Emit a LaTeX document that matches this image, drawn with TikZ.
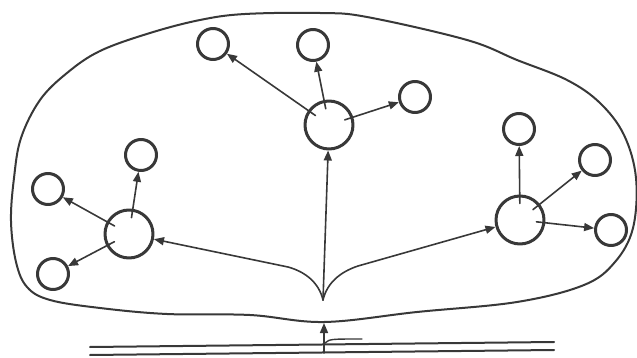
\documentclass[tikz,border=0pt]{standalone}
\usepackage{tikz}
\usetikzlibrary{arrows.meta}
\definecolor{ink}{HTML}{383838}

\begin{document}
\begin{tikzpicture}[x=1pt,y=-1pt,line cap=round,line join=round,
              hub/.style={circle,draw=ink,line width=3pt,minimum size=48pt,inner sep=0},
              leaf/.style={circle,draw=ink,line width=3pt,minimum size=31pt,inner sep=0},
              arr/.style={ink,line width=1.6pt,-{Triangle[length=10pt,width=8pt]}},
              spoke/.style={arr,shorten <=-9pt}]
              \useasboundingbox (0,0) rectangle (637,358);
              % outline of the whole
              \draw[ink,line width=2pt] plot[smooth cycle,tension=0.6] coordinates {
                (320,13) (367,17) (467,40) (517,60) (567,80) (600,103) (624,135)
                (636,178) (633,228) (615,262) (584,285) (517,302) (417,312) (324,322)
                (250,315) (167,314) (100,308) (50,300) (27,287) (16,262) (11,221)
                (14,178) (21,138) (40,100) (67,73) (100,51) (150,33) (200,20) (245,14)};
              % hubs
              \node[hub] (c) at (329,125) {};
              \node[hub] (l) at (129,234) {};
              \node[hub] (r) at (520,220) {};
              % leaves
              \node[leaf] (c1) at (213,44) {};
              \node[leaf] (c2) at (313,45) {};
              \node[leaf] (c3) at (415,97) {};
              \node[leaf] (l1) at (48,189) {};
              \node[leaf] (l2) at (141,155) {};
              \node[leaf] (l3) at (53,274) {};
              \node[leaf] (r1) at (519,129) {};
              \node[leaf] (r2) at (595,160) {};
              \node[leaf] (r3) at (611,230) {};
              \draw[spoke] (c)--(c1);
              \draw[spoke] (c)--(c2);
              \draw[spoke] (c)--(c3);
              \draw[spoke] (l)--(l1);
              \draw[spoke] (l)--(l2);
              \draw[spoke] (l)--(l3);
              \draw[spoke] (r)--(r1);
              \draw[spoke] (r)--(r2);
              \draw[spoke] (r)--(r3);
              % trunk and branches
              \coordinate (fork) at (323,300);
              \draw[arr] (fork)--(c);
              \draw[arr] (fork) .. controls (319,283) and (306,272) .. (288,267)--(l);
              \draw[arr] (fork) .. controls (327,283) and (340,272) .. (358,266)--(r);
              % entry from below
              \coordinate (entry) at (324,353);
              \coordinate (gate) at (324,323);
              \draw[arr] (entry)--(gate);
              \draw[ink,line width=1.4pt] (325,343) .. controls (330,339) .. (362,339);
              \draw[ink,line width=2pt] (90,347)--(554,342) (90,355)--(554,350);
            \end{tikzpicture}
\end{document}
